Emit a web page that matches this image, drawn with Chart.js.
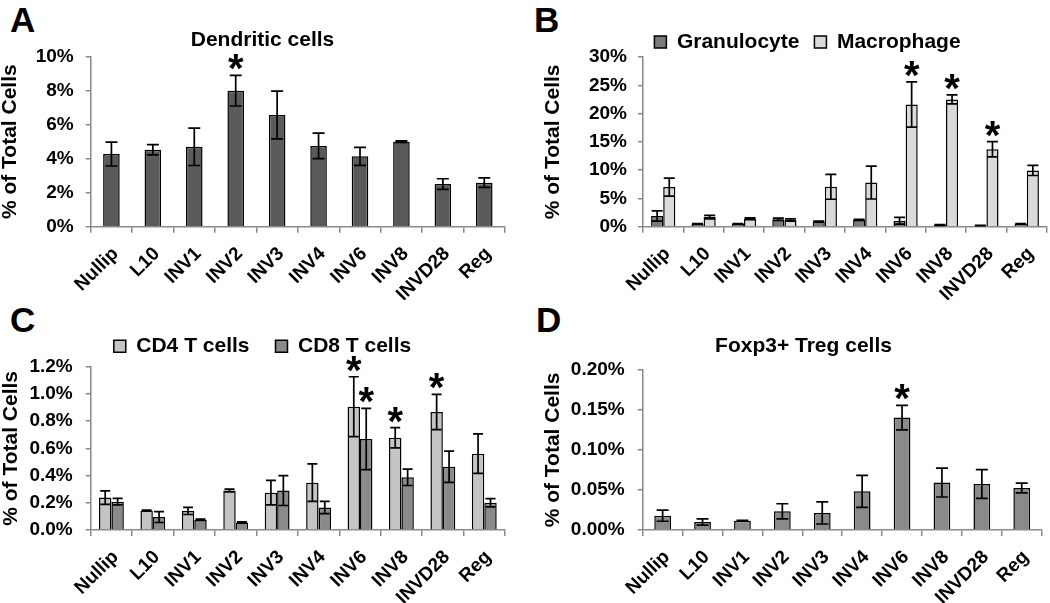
<!DOCTYPE html>
<html>
<head>
<meta charset="utf-8">
<script src="https://cdn.jsdelivr.net/npm/chart.js@4.4.1/dist/chart.umd.min.js"></script>
<style>
  body { margin: 0; width: 1050px; height: 603px; overflow: hidden; background: #fff; position: relative; }
  canvas { position: absolute; }
  .letter { position: absolute; font-family: "Liberation Sans", Arial, sans-serif; font-weight: bold; font-size: 35px; line-height: 1; color: #000; }
</style>
</head>
<body>
<div class="letter" style="left:10px;top:2px">A</div>
<div class="letter" style="left:534px;top:2px">B</div>
<div class="letter" style="left:10px;top:302px">C</div>
<div class="letter" style="left:536px;top:302px">D</div>
<canvas id="chartA" width="525" height="300" style="left:0;top:0"></canvas>
<canvas id="chartB" width="555" height="300" style="left:530px;top:0"></canvas>
<canvas id="chartC" width="525" height="303" style="left:0;top:300px"></canvas>
<canvas id="chartD" width="547" height="303" style="left:530px;top:300px"></canvas>
<script>
// groups on the x axis (same for all four panels)
const groups = ['Nullip', 'L10', 'INV1', 'INV2', 'INV3', 'INV4', 'INV6', 'INV8', 'INVD28', 'Reg'];

// A - dendritic cells (% of total cells)
const dendritic    = [4.27, 4.53, 4.7, 8.0, 6.57, 4.75, 4.14, 5.0, 2.51, 2.59];
const dendriticErr = [0.7, 0.3, 1.1, 0.9, 1.4, 0.75, 0.53, 0.05, 0.31, 0.28];
const dendriticSig = [0, 0, 0, 1, 0, 0, 0, 0, 0, 0];
const ticksA = [0, 2, 4, 6, 8, 10];

// B - granulocytes / macrophages
const granulocyte = [1.9, 0.5, 0.5, 1.3, 0.9, 1.2, 1.05, 0.3, 0.2, 0.5];
const granErr     = [0.9, 0.05, 0.05, 0.2, 0.1, 0.1, 0.6, 0.05, 0.03, 0.05];
const macrophage  = [7.0, 1.7, 1.4, 1.2, 7.05, 7.8, 21.6, 22.5, 13.7, 9.95];
const macErr      = [1.6, 0.3, 0.15, 0.2, 2.2, 2.9, 4.0, 0.8, 1.35, 0.9];
const macSig      = [0, 0, 0, 0, 0, 0, 1, 1, 1, 0];
const ticksB = [0, 5, 10, 15, 20, 25, 30];

// C - CD4 / CD8 T cells
const cd4    = [0.238, 0.142, 0.14, 0.29, 0.274, 0.348, 0.906, 0.678, 0.867, 0.561];
const cd4Err = [0.05, 0.004, 0.026, 0.01, 0.09, 0.138, 0.22, 0.075, 0.13, 0.145];
const cd4Sig = [0, 0, 0, 0, 0, 0, 1, 1, 1, 0];
const cd8    = [0.208, 0.095, 0.076, 0.056, 0.29, 0.166, 0.669, 0.387, 0.465, 0.2];
const cd8Err = [0.024, 0.04, 0.005, 0.004, 0.11, 0.045, 0.225, 0.06, 0.115, 0.03];
const cd8Sig = [0, 0, 0, 0, 0, 0, 1, 0, 0, 0];
const ticksC = [0, 0.2, 0.4, 0.6, 0.8, 1.0, 1.2];

// D - Foxp3+ Treg cells
const treg    = [0.0179, 0.010, 0.0117, 0.0233, 0.0213, 0.0483, 0.1404, 0.0592, 0.0575, 0.0525];
const tregErr = [0.007, 0.004, 0.0004, 0.0095, 0.0138, 0.02, 0.0154, 0.018, 0.018, 0.006];
const tregSig = [0, 0, 0, 0, 0, 0, 1, 0, 0, 0];
const ticksD = [0, 0.05, 0.10, 0.15, 0.20];

Chart.defaults.font.family = '"Liberation Sans", Arial, sans-serif';
Chart.defaults.color = '#000';

const axisGrey = '#8a8a8a';

// draws +/- error whiskers and significance stars on top of the bars
const errorBars = {
  id: 'errorBars',
  afterDatasetsDraw(chart, args, opts) {
    const ctx = chart.ctx;
    const y = chart.scales.y;
    const cap = opts.cap || 5;
    ctx.save();
    ctx.strokeStyle = '#000';
    ctx.lineWidth = 1.7;
    chart.data.datasets.forEach((ds, di) => {
      if (!ds.errors) return;
      const meta = chart.getDatasetMeta(di);
      meta.data.forEach((bar, i) => {
        const v = ds.data[i], e = ds.errors[i];
        const top = y.getPixelForValue(v + e);
        const bot = y.getPixelForValue(Math.max(v - e, 0));
        ctx.beginPath();
        ctx.moveTo(bar.x, top); ctx.lineTo(bar.x, bot);
        ctx.moveTo(bar.x - cap, top); ctx.lineTo(bar.x + cap, top);
        ctx.moveTo(bar.x - cap, bot); ctx.lineTo(bar.x + cap, bot);
        ctx.stroke();
        if (ds.stars && ds.stars[i]) {
          ctx.font = 'bold 40px "Liberation Sans", Arial, sans-serif';
          ctx.fillStyle = '#000';
          ctx.textAlign = 'center';
          ctx.textBaseline = 'alphabetic';
          const m = ctx.measureText('*');
          const cy = top - 13;
          ctx.fillText('*', bar.x, cy + (m.actualBoundingBoxAscent - m.actualBoundingBoxDescent) / 2);
        }
      });
    });
    ctx.restore();
  }
};

function panelOptions(p) {
  return {
    responsive: false,
    animation: false,
    layout: { padding: { top: p.padTop || 0, right: 0, left: 0, bottom: 0 } },
    plugins: {
      legend: p.legend ? {
        display: true,
        position: 'top',
        maxHeight: p.legendMax,
        labels: { boxWidth: 12, boxHeight: 12, padding: p.legendGap, color: '#000', font: { size: 21, weight: 'bold' } }
      } : { display: false },
      title: p.title ? {
        display: true,
        text: p.title,
        color: '#000',
        font: { size: 21, weight: 'bold', lineHeight: 1.2 },
        padding: p.titlePad
      } : { display: false },
      tooltip: { enabled: false },
      errorBars: { cap: p.cap }
    },
    scales: {
      x: {
        offset: true,
        grid: { offset: true, drawOnChartArea: false, tickLength: 6, color: axisGrey, lineWidth: 1.5 },
        border: { color: axisGrey, width: 1.5 },
        ticks: { font: { size: 19, weight: 'bold' }, color: '#000', minRotation: 45, maxRotation: 45, padding: 10, labelOffset: 4, autoSkip: false },
        // fixed axis height, and the right gap kept inside the plot box so legend/title stay centred on the canvas
        afterFit: s => { s.height = p.xHeight; s.paddingRight = p.padRight; }
      },
      y: {
        min: 0,
        max: p.ticks[p.ticks.length - 1],
        afterBuildTicks: s => { s.ticks = p.ticks.map(v => ({ value: v })); },
        ticks: { font: { size: 19, weight: 'bold' }, color: '#000', padding: p.tickPad, callback: v => v.toFixed(p.dec) + '%' },
        grid: { drawOnChartArea: false, tickLength: 5, color: axisGrey, lineWidth: 1.5 },
        border: { color: axisGrey, width: 1.5 },
        title: { display: true, text: '% of Total Cells', color: '#000', font: { size: 21, weight: 'bold', lineHeight: 1 }, padding: { top: p.yTitlePad, bottom: 0 } },
        afterFit: s => { s.width = p.yWidth; }
      }
    }
  };
}

const barStyle = { borderColor: '#000', borderWidth: 1.5, barPercentage: 1 };

new Chart(document.getElementById('chartA'), {
  type: 'bar',
  data: {
    labels: groups,
    datasets: [{ label: 'Dendritic cells', data: dendritic, errors: dendriticErr, stars: dendriticSig,
      backgroundColor: '#5a5a5a', categoryPercentage: 0.4, ...barStyle }]
  },
  options: panelOptions({ title: 'Dendritic cells', titlePad: { top: 28, bottom: 3.5 }, padRight: 20,
    ticks: ticksA, dec: 0, tickPad: 12, yWidth: 90.7, xHeight: 73.3, yTitlePad: 0, cap: 6 }),
  plugins: [errorBars]
});

new Chart(document.getElementById('chartB'), {
  type: 'bar',
  data: {
    labels: groups,
    datasets: [
      { label: 'Granulocyte', data: granulocyte, errors: granErr, backgroundColor: '#7a7a7a', categoryPercentage: 0.6, ...barStyle },
      { label: 'Macrophage', data: macrophage, errors: macErr, stars: macSig, backgroundColor: '#dadada', categoryPercentage: 0.6, ...barStyle }
    ]
  },
  options: panelOptions({ legend: true, legendGap: 15, legendMax: 40.5, padTop: 16.5, padRight: 38,
    ticks: ticksB, dec: 0, tickPad: 11, yWidth: 113, xHeight: 73.3, yTitlePad: 13, cap: 5.5 }),
  plugins: [errorBars]
});

new Chart(document.getElementById('chartC'), {
  type: 'bar',
  data: {
    labels: groups,
    datasets: [
      { label: 'CD4 T cells', data: cd4, errors: cd4Err, stars: cd4Sig, backgroundColor: '#c4c4c4', categoryPercentage: 0.6, ...barStyle },
      { label: 'CD8 T cells', data: cd8, errors: cd8Err, stars: cd8Sig, backgroundColor: '#8a8a8a', categoryPercentage: 0.6, ...barStyle }
    ]
  },
  options: panelOptions({ legend: true, legendGap: 26, padTop: 9.7, padRight: 20,
    ticks: ticksC, dec: 1, tickPad: 13, yWidth: 90.7, xHeight: 73, yTitlePad: 1, cap: 5 }),
  plugins: [errorBars]
});

new Chart(document.getElementById('chartD'), {
  type: 'bar',
  data: {
    labels: groups,
    datasets: [{ label: 'Foxp3+ Treg cells', data: treg, errors: tregErr, stars: tregSig,
      backgroundColor: '#8a8a8a', categoryPercentage: 0.42, ...barStyle }]
  },
  options: panelOptions({ title: 'Foxp3+ Treg cells', titlePad: { top: 34, bottom: 10.7 }, padRight: 35.3,
    ticks: ticksD, dec: 2, tickPad: 13, yWidth: 112.7, xHeight: 73, yTitlePad: 13, cap: 6 }),
  plugins: [errorBars]
});
</script>
</body>
</html>
